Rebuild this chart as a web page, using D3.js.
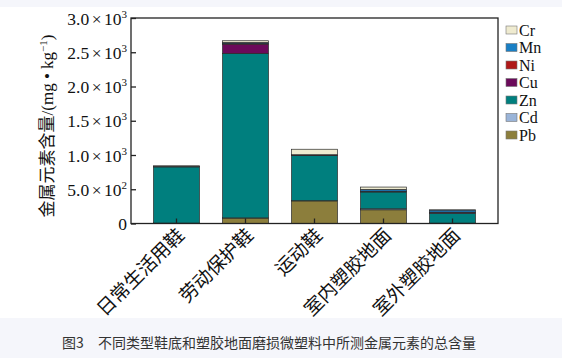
<!DOCTYPE html>
<html>
<head>
<meta charset="utf-8">
<script src="https://cdn.jsdelivr.net/npm/d3@7/dist/d3.min.js"></script>
<style>
  html, body { margin: 0; padding: 0; background: #f5f6fb; }
  svg { display: block; }
</style>
</head>
<body>
<svg id="chart" width="562" height="358"></svg>
<script>
const categories = ["日常生活用鞋", "劳动保护鞋", "运动鞋", "室内塑胶地面", "室外塑胶地面"];
const elements = ["Pb", "Cd", "Zn", "Cu", "Ni", "Mn", "Cr"];   // bottom -> top
const Pb = [5, 80, 330, 200, 4];
const Cd = [1, 2, 3, 15, 1];
const Zn = [820, 2400, 660, 245, 145];
const Cu = [6, 136, 6, 8, 10];
const Ni = [2, 10, 2, 4, 6];
const Mn = [3, 15, 3, 25, 30];
const Cr = [5, 25, 80, 35, 3];
const yTickValues = [0, 500, 1000, 1500, 2000, 2500, 3000];
const yTickMant = ["0", "5.0", "1.0", "1.5", "2.0", "2.5", "3.0"];
const yTickExp = ["", "2", "3", "3", "3", "3", "3"];
const colors = {Cr: "#efebd0", Mn: "#1a7fc4", Ni: "#b01818", Cu: "#6b0a5a", Zn: "#007f7e", Cd: "#9ab4d8", Pb: "#8c7e3c"};
const legendOrder = ["Cr", "Mn", "Ni", "Cu", "Zn", "Cd", "Pb"];
const caption = "图3　不同类型鞋底和塑胶地面磨损微塑料中所测金属元素的总含量";

const series = {Pb, Cd, Zn, Cu, Ni, Mn, Cr};
const table = categories.map((c, i) => {
  const row = {cat: c};
  elements.forEach(e => row[e] = series[e][i]);
  return row;
});

const svg = d3.select("#chart");
const serif = "'Liberation Serif', 'Times New Roman', 'Noto Sans CJK SC', serif";

// white chart panel
svg.append("rect").attr("x", 0).attr("y", 7).attr("width", 562).attr("height", 311).attr("fill", "#ffffff");

const L = 131, R = 498, T = 18, B = 223.5;
const x = d3.scaleBand().domain(categories).range([L, R]).paddingInner(1/3).paddingOuter(0.326);
const y = d3.scaleLinear().domain([0, 3000]).range([B, T]);

const stacked = d3.stack().keys(elements)(table);

const g = svg.append("g");
g.selectAll("g.layer").data(stacked).join("g")
  .attr("class", "layer")
  .attr("fill", d => colors[d.key])
  .selectAll("rect").data(d => d).join("rect")
  .attr("x", d => x(d.data.cat))
  .attr("width", x.bandwidth())
  .attr("y", d => y(d[1]))
  .attr("height", d => y(d[0]) - y(d[1]))
  .attr("stroke", "#2a2a2a")
  .attr("stroke-width", 0.7);

// frame
svg.append("rect").attr("x", L).attr("y", T).attr("width", R - L).attr("height", B - T)
  .attr("fill", "none").attr("stroke", "#222").attr("stroke-width", 1.3);

// y axis
const yAxis = d3.axisLeft(y).tickValues(yTickValues).tickSizeInner(-5).tickSizeOuter(0).tickPadding(4);
const ya = svg.append("g").attr("transform", `translate(${L},0)`).call(yAxis);
ya.select(".domain").remove();
ya.selectAll(".tick line").attr("stroke", "#222").attr("stroke-width", 1.3);
ya.selectAll(".tick text").each(function(d, i) {
  const t = d3.select(this);
  t.text(null).attr("font-family", serif).attr("font-size", 17.5).attr("fill", "#111").attr("dy", "0.35em");
  t.append("tspan").text(yTickMant[i]);
  if (yTickExp[i]) {
    t.append("tspan").attr("dx", 2.5).text("×");
    t.append("tspan").attr("dx", 2.5).text("10");
    t.append("tspan").attr("dy", -7).attr("font-size", 11).text(yTickExp[i]);
  }
});

// x axis
const xAxis = d3.axisBottom(x).tickSizeInner(-5).tickSizeOuter(0);
const xa = svg.append("g").attr("transform", `translate(0,${B})`).call(xAxis);
xa.select(".domain").remove();
xa.selectAll(".tick line").attr("stroke", "#222").attr("stroke-width", 1.3);
xa.selectAll(".tick text")
  .attr("font-family", serif).attr("font-size", 19).attr("fill", "#111")
  .attr("text-anchor", "end")
  .attr("y", 0).attr("dy", 0)
  .attr("transform", "translate(9,13) rotate(-45)");

// y label
const yl = svg.append("text")
  .attr("transform", "translate(53,126) rotate(-90)")
  .attr("text-anchor", "middle")
  .attr("font-family", serif).attr("font-size", 17).attr("fill", "#111");
yl.append("tspan").text("金属元素含量/(mg • kg");
yl.append("tspan").attr("dy", -6).attr("font-size", 11).text("−1");
yl.append("tspan").attr("dy", 6).text(")");

// legend
const lg = svg.append("g").attr("transform", "translate(506,30)");
legendOrder.forEach((k, i) => {
  const row = lg.append("g").attr("transform", `translate(0,${i * 17.5})`);
  row.append("rect").attr("x", 0).attr("y", -4).attr("width", 11).attr("height", 8)
    .attr("fill", colors[k]).attr("stroke", "#777").attr("stroke-width", 0.6);
  row.append("text").attr("x", 13).attr("y", 0).attr("dy", "0.35em")
    .attr("font-family", serif).attr("font-size", 16).attr("fill", "#111").text(k);
});

// caption
svg.append("text").attr("x", 269).attr("y", 343).attr("dy", "0.35em")
  .attr("text-anchor", "middle")
  .attr("font-family", "'Noto Sans CJK SC', sans-serif").attr("font-size", 14).attr("fill", "#333")
  .text(caption);
</script>
</body>
</html>
